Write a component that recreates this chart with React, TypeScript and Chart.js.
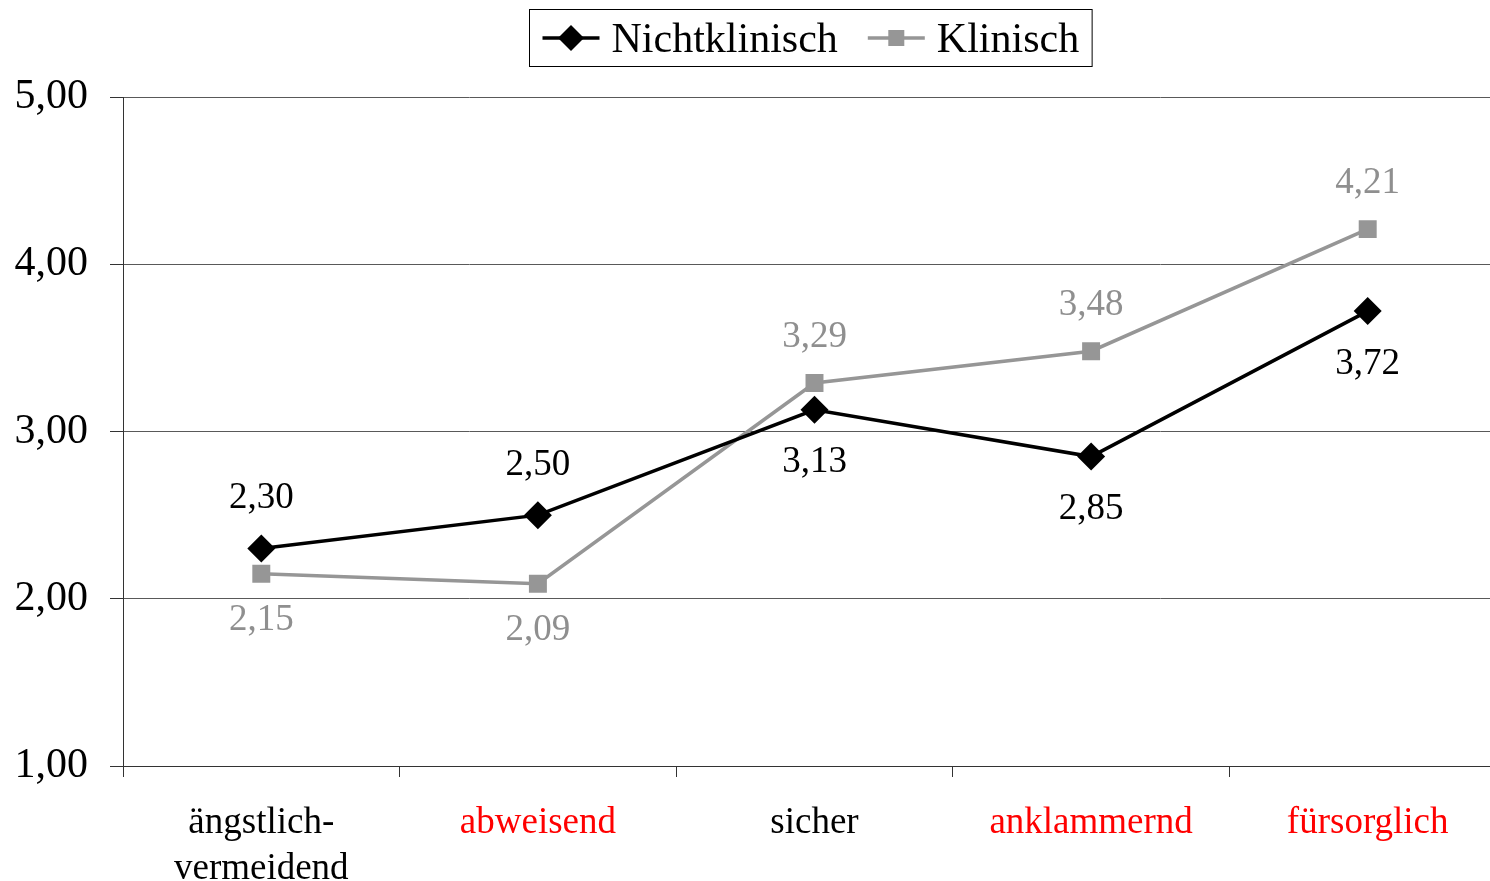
import React, { useEffect, useRef } from 'react';
import { Chart, registerables } from 'chart.js';

Chart.register(...registerables);

const FONT = '"Liberation Serif", "Times New Roman", serif';

const categories: (string | string[])[] = [['ängstlich-', 'vermeidend'], 'abweisend', 'sicher', 'anklammernd', 'fürsorglich'];
const categoryColors = ['#000000', '#ff0000', '#000000', '#ff0000', '#ff0000'];
const nichtklinisch = [2.3, 2.5, 3.13, 2.85, 3.72];
const klinisch = [2.15, 2.09, 3.29, 3.48, 4.21];
const nichtklinischLabelSide = ['above', 'above', 'below', 'below', 'below'];
const klinischLabelSide = ['below', 'below', 'above', 'above', 'above'];
const seriesNames = ['Nichtklinisch', 'Klinisch'];
const yMin = 1;
const yMax = 5;
const yStep = 1;

const BLACK = '#000000';
const GRAY = '#969696';
const GRAY_TEXT = '#8f8f8f';

const fmt = (v: number) => v.toFixed(2).replace('.', ',');

const labelCfg = [
  { side: nichtklinischLabelSide, color: BLACK, above: 50, below: 53 },
  { side: klinischLabelSide, color: GRAY_TEXT, above: 46, below: 47 },
];

const valueLabelPlugin = {
  id: 'valueLabels',
  afterDatasetsDraw(chart: any) {
    const ctx = chart.ctx;
    ctx.save();
    ctx.font = `37px ${FONT}`;
    ctx.textAlign = 'center';
    ctx.textBaseline = 'middle';
    chart.data.datasets.forEach((ds: any, di: number) => {
      const meta = chart.getDatasetMeta(di);
      const cfg = labelCfg[di];
      meta.data.forEach((pt: any, i: number) => {
        const v = ds.data[i] as number;
        const up = cfg.side[i] === 'above';
        ctx.fillStyle = cfg.color;
        ctx.fillText(fmt(v), pt.x, up ? pt.y - cfg.above : pt.y + cfg.below);
      });
    });
    ctx.restore();
  },
};

const legendPlugin = {
  id: 'customLegend',
  afterDraw(chart: any) {
    const ctx = chart.ctx;
    ctx.save();
    ctx.font = `42px ${FONT}`;
    const w1 = ctx.measureText(seriesNames[0]).width;
    const w2 = ctx.measureText(seriesNames[1]).width;
    const pad = 13;
    const lineLen = 57;
    const gap = 12;
    const between = 30;
    const total = pad + lineLen + gap + w1 + between + lineLen + gap + w2 + pad;
    const cx = 810.5;
    const left = Math.round(cx - total / 2) + 0.5;
    const top = 9.5;
    const h = 57;
    const cy = top + h / 2;
    ctx.fillStyle = '#ffffff';
    ctx.fillRect(left, top, total, h);
    ctx.strokeStyle = '#000000';
    ctx.lineWidth = 1;
    ctx.strokeRect(left, top, total, h);

    let x = left + pad;
    // series 1
    ctx.strokeStyle = BLACK;
    ctx.lineWidth = 3.5;
    ctx.beginPath();
    ctx.moveTo(x, cy);
    ctx.lineTo(x + lineLen, cy);
    ctx.stroke();
    const mx1 = x + lineLen / 2;
    const r = 13;
    ctx.fillStyle = BLACK;
    ctx.beginPath();
    ctx.moveTo(mx1 - r, cy);
    ctx.lineTo(mx1, cy - r);
    ctx.lineTo(mx1 + r, cy);
    ctx.lineTo(mx1, cy + r);
    ctx.closePath();
    ctx.fill();
    x += lineLen + gap;
    ctx.fillStyle = '#000000';
    ctx.textAlign = 'left';
    ctx.textBaseline = 'middle';
    ctx.fillText(seriesNames[0], x, cy + 3);
    x += w1 + between;
    // series 2
    ctx.strokeStyle = GRAY;
    ctx.lineWidth = 3.5;
    ctx.beginPath();
    ctx.moveTo(x, cy);
    ctx.lineTo(x + lineLen, cy);
    ctx.stroke();
    const mx2 = x + lineLen / 2;
    const s = 16;
    ctx.fillStyle = GRAY;
    ctx.fillRect(mx2 - s / 2, cy - s / 2, s, s);
    x += lineLen + gap;
    ctx.fillStyle = '#000000';
    ctx.fillText(seriesNames[1], x, cy + 3);
    ctx.restore();
  },
};

export default function App() {
  const ref = useRef<HTMLCanvasElement>(null);

  useEffect(() => {
    const canvas = ref.current;
    if (!canvas) return;
    const chart = new Chart(canvas, {
      type: 'line',
      data: {
        labels: categories,
        datasets: [
          {
            label: seriesNames[0],
            data: nichtklinisch,
            borderColor: BLACK,
            backgroundColor: BLACK,
            borderWidth: 3.5,
            pointStyle: 'rectRot',
            pointRadius: 14,
            pointHoverRadius: 14,
            pointBorderWidth: 0,
            pointBackgroundColor: BLACK,
            tension: 0,
          },
          {
            label: seriesNames[1],
            data: klinisch,
            borderColor: GRAY,
            backgroundColor: GRAY,
            borderWidth: 3.5,
            pointStyle: 'rect',
            pointRadius: 12.7,
            pointHoverRadius: 12.7,
            pointBorderWidth: 0,
            pointBackgroundColor: GRAY,
            tension: 0,
          },
        ],
      },
      options: {
        responsive: false,
        animation: false,
        devicePixelRatio: 1,
        layout: { padding: { top: 97, right: 12, left: 0, bottom: 0 } },
        plugins: {
          legend: { display: false },
          tooltip: { enabled: false },
        },
        scales: {
          x: {
            type: 'category',
            offset: true,
            grid: {
              display: true,
              drawOnChartArea: false,
              offset: true,
              tickLength: 11,
              tickColor: '#333333',
            },
            border: { display: true, color: '#333333', width: 1 },
            ticks: {
              padding: 23,
              autoSkip: false,
              maxRotation: 0,
              minRotation: 0,
              color: (c: any) => categoryColors[c.index] ?? '#000000',
              font: { family: FONT, size: 37, lineHeight: 1.25 },
            },
            afterFit: (scale: any) => {
              scale.height = 115;
            },
          },
          y: {
            min: yMin,
            max: yMax,
            grid: {
              color: '#595959',
              lineWidth: 1,
              tickLength: 13,
              tickColor: '#333333',
            },
            border: { display: true, color: '#333333', width: 1 },
            ticks: {
              stepSize: yStep,
              padding: 22,
              color: '#000000',
              font: { family: FONT, size: 42 },
              callback: (v: any) => fmt(Number(v)),
            },
            afterFit: (scale: any) => {
              scale.width = 123;
            },
          },
        },
      },
      plugins: [valueLabelPlugin, legendPlugin],
    });
    return () => chart.destroy();
  }, []);

  return (
    <div
      style={{
        position: 'fixed',
        left: 0,
        top: 0,
        width: 1490,
        height: 881,
        overflow: 'hidden',
        background: '#ffffff',
      }}
    >
      <canvas ref={ref} width={1520} height={881} style={{ display: 'block' }} />
    </div>
  );
}
